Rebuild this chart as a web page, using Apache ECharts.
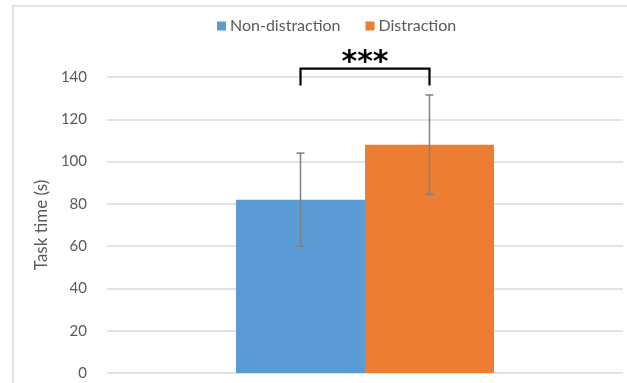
<!DOCTYPE html>
<html>
<head>
<meta charset="utf-8">
<script src="https://cdn.jsdelivr.net/npm/echarts@6/dist/echarts.min.js"></script>
<style>html,body{margin:0;padding:0;background:#fff;}#main{width:627px;height:383px;}</style>
</head>
<body>
<div id="main"></div>
<script>
// ---- data ----
const categories = ['Task'];
const seriesNames = ['Non-distraction', 'Distraction'];
const nonDistraction = [82];
const distraction = [108];
const nonDistractionErr = [22];
const distractionErr = [23.5];
const yMin = 0, yMax = 140, yInterval = 20;
const significanceLabel = '***';
const bracketTopValue = 144;
const bracketFootValue = 136;
const yAxisName = 'Task time (s)';

const colors = ['#5b9bd5', '#ed7d31'];
const BAR_FRAC = 0.25;
const FONT = 'Lato, "Open Sans", sans-serif';

const chart = echarts.init(document.getElementById('main'), null, { renderer: 'canvas' });

function errorSeries(means, errs, side) {
  return {
    type: 'custom',
    z: 5,
    silent: true,
    clip: false,
    data: means.map((m, i) => [i, m, errs[i]]),
    renderItem: function (params, api) {
      const idx = api.value(0), m = api.value(1), e = api.value(2);
      const bw = api.size([1, 0])[0] * BAR_FRAC;
      const c = api.coord([idx, m]);
      const x = c[0] + side * bw / 2;
      const hi = api.coord([idx, m + e])[1];
      const lo = api.coord([idx, m - e])[1];
      const cap = 4;
      const st = { stroke: '#7f7f7f', lineWidth: 1.5, fill: null };
      return {
        type: 'group',
        children: [
          { type: 'line', shape: { x1: x, y1: hi, x2: x, y2: lo }, style: st },
          { type: 'line', shape: { x1: x - cap, y1: hi, x2: x + cap, y2: hi }, style: st },
          { type: 'line', shape: { x1: x - cap, y1: lo, x2: x + cap, y2: lo }, style: st }
        ]
      };
    }
  };
}

const option = {
  animation: false,
  backgroundColor: '#fff',
  textStyle: { fontFamily: FONT },
  graphic: [{
    type: 'rect', silent: true, z: -10,
    shape: { x: 13, y: 6, width: 800, height: 600 },
    style: { fill: null, stroke: '#d9d9d9', lineWidth: 1.5 }
  }],
  legend: {
    data: seriesNames,
    left: 212, top: 13,
    itemWidth: 9, itemHeight: 9, itemGap: 25,
    icon: 'rect',
    textStyle: { color: '#595959', fontSize: 16, fontFamily: FONT, padding: [0, 0, 0, -1] }
  },
  grid: { left: 107, right: 4, top: 77, bottom: 10, containLabel: false },
  xAxis: {
    type: 'category', data: categories,
    axisLine: { show: false }, axisTick: { show: false }, axisLabel: { show: false },
    splitLine: { show: false }
  },
  yAxis: {
    type: 'value', min: yMin, max: yMax, interval: yInterval,
    name: yAxisName, nameLocation: 'middle', nameGap: 53,
    nameTextStyle: { color: '#595959', fontSize: 17, fontFamily: FONT },
    axisLine: { show: false }, axisTick: { show: false },
    axisLabel: { color: '#595959', fontSize: 15, margin: 20, fontFamily: FONT },
    splitLine: { lineStyle: { color: '#d9d9d9', width: 1.5 } }
  },
  series: [
    { name: seriesNames[0], type: 'bar', data: nonDistraction, barWidth: (BAR_FRAC * 100) + '%', barGap: '0%', itemStyle: { color: colors[0] } },
    { name: seriesNames[1], type: 'bar', data: distraction, barWidth: (BAR_FRAC * 100) + '%', barGap: '0%', itemStyle: { color: colors[1] } },
    errorSeries(nonDistraction, nonDistractionErr, -1),
    errorSeries(distraction, distractionErr, 1),
    {
      type: 'custom', z: 6, silent: true, clip: false,
      data: [[0, bracketTopValue, bracketFootValue]],
      renderItem: function (params, api) {
        const idx = api.value(0);
        const bw = api.size([1, 0])[0] * BAR_FRAC;
        const c = api.coord([idx, api.value(1)]);
        const yTop = c[1];
        const yFoot = api.coord([idx, api.value(2)])[1];
        const x1 = c[0] - bw / 2, x2 = c[0] + bw / 2;
        return {
          type: 'group',
          children: [
            { type: 'polyline', shape: { points: [[x1, yFoot], [x1, yTop], [x2, yTop], [x2, yFoot]] },
              style: { stroke: '#000', lineWidth: 2.2, fill: null } },
            { type: 'text', x: c[0], y: yTop + 10,
              style: { text: significanceLabel, fill: '#000', font: 'bold 30px "DejaVu Sans", sans-serif',
                       align: 'center', verticalAlign: 'bottom' } }
          ]
        };
      }
    }
  ]
};
chart.setOption(option);
</script>
</body>
</html>
